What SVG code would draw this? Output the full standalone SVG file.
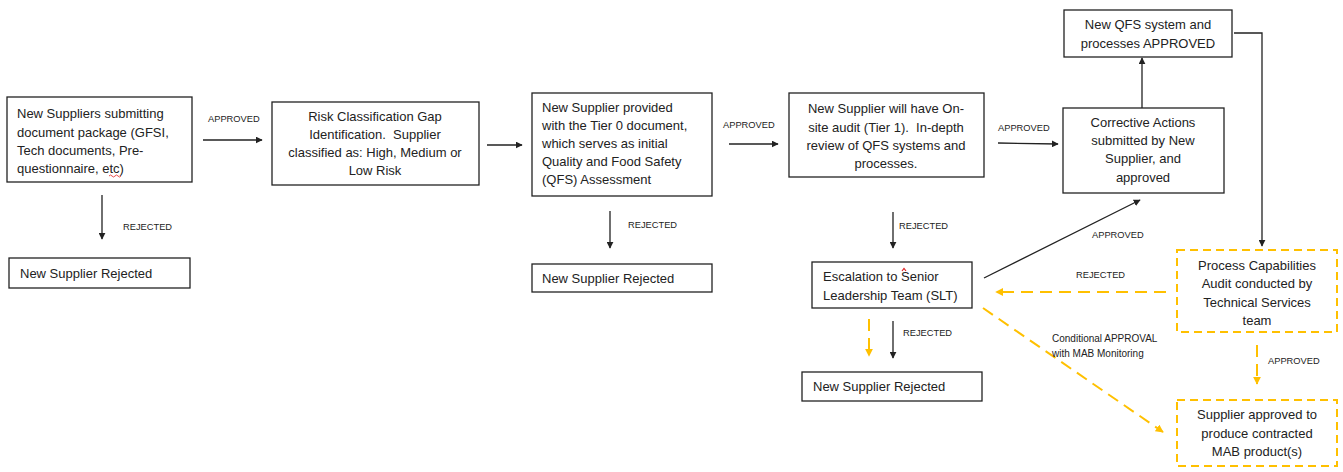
<svg xmlns="http://www.w3.org/2000/svg" width="1343" height="472" viewBox="0 0 1343 472">
<style>
.box{fill:#fff;stroke:#222;stroke-width:1.3}
.ybox{fill:#fff;stroke:#FFC000;stroke-width:2;stroke-dasharray:8 5}
.t{font-family:"Liberation Sans",Arial,sans-serif;font-size:13px;fill:#222;white-space:pre}
.c{text-anchor:middle}
.l{font-family:"Liberation Sans",Arial,sans-serif;font-size:9.3px;fill:#222}
.lc{font-size:10px}
.k{fill:none;stroke:#222;stroke-width:1.3}
.y{fill:none;stroke:#FFC000;stroke-width:2;stroke-dasharray:12 7}
</style>
<defs>
<marker id="ak" viewBox="0 0 10 10" refX="9" refY="5" markerWidth="7" markerHeight="7" markerUnits="userSpaceOnUse" orient="auto"><path d="M0,0 L10,5 L0,10 z" fill="#222"/></marker>
<marker id="ay" viewBox="0 0 10 10" refX="9" refY="5" markerWidth="8" markerHeight="8" markerUnits="userSpaceOnUse" orient="auto"><path d="M0,0 L10,5 L0,10 z" fill="#FFC000"/></marker>
</defs>
<rect width="1343" height="472" fill="#fff"/>

<g id="connectors">
<line class="k" x1="203" y1="140" x2="262" y2="140" marker-end="url(#ak)"/>
<line class="k" x1="102" y1="195" x2="102" y2="239" marker-end="url(#ak)"/>
<line class="k" x1="487" y1="145" x2="522" y2="145" marker-end="url(#ak)"/>
<line class="k" x1="729" y1="144" x2="778" y2="144" marker-end="url(#ak)"/>
<line class="k" x1="610" y1="211" x2="610" y2="248" marker-end="url(#ak)"/>
<line class="k" x1="998" y1="143" x2="1058" y2="144" marker-end="url(#ak)"/>
<line class="k" x1="893" y1="212" x2="893" y2="248" marker-end="url(#ak)"/>
<line class="k" x1="893" y1="321" x2="893" y2="358" marker-end="url(#ak)"/>
<line class="k" x1="1142" y1="108" x2="1142" y2="58" marker-end="url(#ak)"/>
<polyline class="k" points="1234,33 1262,33 1262,246" marker-end="url(#ak)"/>
<line class="k" x1="984" y1="278" x2="1140" y2="200" marker-end="url(#ak)"/>
<line class="y" x1="869" y1="319" x2="869" y2="356" marker-end="url(#ay)"/>
<line class="y" x1="1166" y1="292" x2="996" y2="292" marker-end="url(#ay)"/>
<line class="y" x1="983" y1="308" x2="1163" y2="432" marker-end="url(#ay)"/>
<line class="y" x1="1257" y1="345" x2="1257" y2="384" marker-end="url(#ay)"/>
<text class="l" x="208" y="122">APPROVED</text>
<text class="l" x="123" y="230">REJECTED</text>
<text class="l" x="723" y="128">APPROVED</text>
<text class="l" x="628" y="228">REJECTED</text>
<text class="l" x="998" y="131">APPROVED</text>
<text class="l" x="899" y="229">REJECTED</text>
<text class="l" x="903" y="336">REJECTED</text>
<text class="l" x="1092" y="238">APPROVED</text>
<text class="l" x="1076" y="278">REJECTED</text>
<text class="l lc" x="1052" y="342">Conditional APPROVAL</text>
<text class="l lc" x="1052" y="357">with MAB Monitoring</text>
<text class="l" x="1268" y="364">APPROVED</text>
</g>

<g id="n1">
<rect class="box" x="7" y="97" width="185" height="85"/>
<text class="t" x="17" y="118">New Suppliers submitting</text>
<text class="t" x="17" y="137">document package (GFSI,</text>
<text class="t" x="17" y="155">Tech documents, Pre-</text>
<text class="t" x="17" y="173">questionnaire, etc)</text>
<path d="M109,176 q1.5,-2 3,0 t3,0 t3,0 t3,0" fill="none" stroke="#e02020" stroke-width="0.8"/>
</g>
<g id="n1r">
<rect class="box" x="9" y="258" width="181" height="30"/>
<text class="t" x="20" y="278">New Supplier Rejected</text>
</g>

<g id="n2">
<rect class="box" x="272" y="102" width="207" height="83"/>
<text class="t c" x="375" y="121">Risk Classification Gap</text>
<text class="t c" x="375" y="139">Identification.  Supplier</text>
<text class="t c" x="375" y="157">classified as: High, Medium or</text>
<text class="t c" x="375" y="175">Low Risk</text>
</g>

<g id="n3">
<rect class="box" x="532" y="93" width="180" height="103"/>
<text class="t" x="542" y="112">New Supplier provided</text>
<text class="t" x="542" y="130">with the Tier 0 document,</text>
<text class="t" x="542" y="148">which serves as initial</text>
<text class="t" x="542" y="166">Quality and Food Safety</text>
<text class="t" x="542" y="184">(QFS) Assessment</text>
</g>
<g id="n3r">
<rect class="box" x="532" y="264" width="180" height="28"/>
<text class="t" x="542" y="283">New Supplier Rejected</text>
</g>

<g id="n4">
<rect class="box" x="789" y="93" width="195" height="84"/>
<text class="t c" x="886" y="113">New Supplier will have On-</text>
<text class="t c" x="886" y="132">site audit (Tier 1).  In-depth</text>
<text class="t c" x="886" y="150">review of QFS systems and</text>
<text class="t c" x="886" y="168">processes.</text>
</g>

<g id="n5">
<rect class="box" x="1064" y="10" width="168" height="47"/>
<text class="t c" x="1148" y="29">New QFS system and</text>
<text class="t c" x="1148" y="48">processes APPROVED</text>
</g>

<g id="n6">
<rect class="box" x="1063" y="108" width="161" height="85"/>
<text class="t c" x="1143" y="127">Corrective Actions</text>
<text class="t c" x="1143" y="145">submitted by New</text>
<text class="t c" x="1143" y="163">Supplier, and</text>
<text class="t c" x="1143" y="182">approved</text>
</g>

<g id="n7">
<rect class="box" x="812" y="262" width="160" height="46"/>
<text class="t" x="823" y="281">Escalation to Senior</text>
<text class="t" x="823" y="300">Leadership Team (SLT)</text>
<path d="M902,271 l2,-2.5 l2,2.5" fill="none" stroke="#e02020" stroke-width="1.2"/>
</g>
<g id="n7r">
<rect class="box" x="802" y="372" width="180" height="29"/>
<text class="t" x="813" y="391">New Supplier Rejected</text>
</g>

<g id="n8">
<rect class="ybox" x="1177" y="250" width="160" height="82"/>
<text class="t c" x="1257" y="270">Process Capabilities</text>
<text class="t c" x="1257" y="288">Audit conducted by</text>
<text class="t c" x="1257" y="307">Technical Services</text>
<text class="t c" x="1257" y="325">team</text>
</g>

<g id="n9">
<rect class="ybox" x="1177" y="400" width="160" height="66"/>
<text class="t c" x="1257" y="419">Supplier approved to</text>
<text class="t c" x="1257" y="438">produce contracted</text>
<text class="t c" x="1257" y="456">MAB product(s)</text>
</g>
</svg>
